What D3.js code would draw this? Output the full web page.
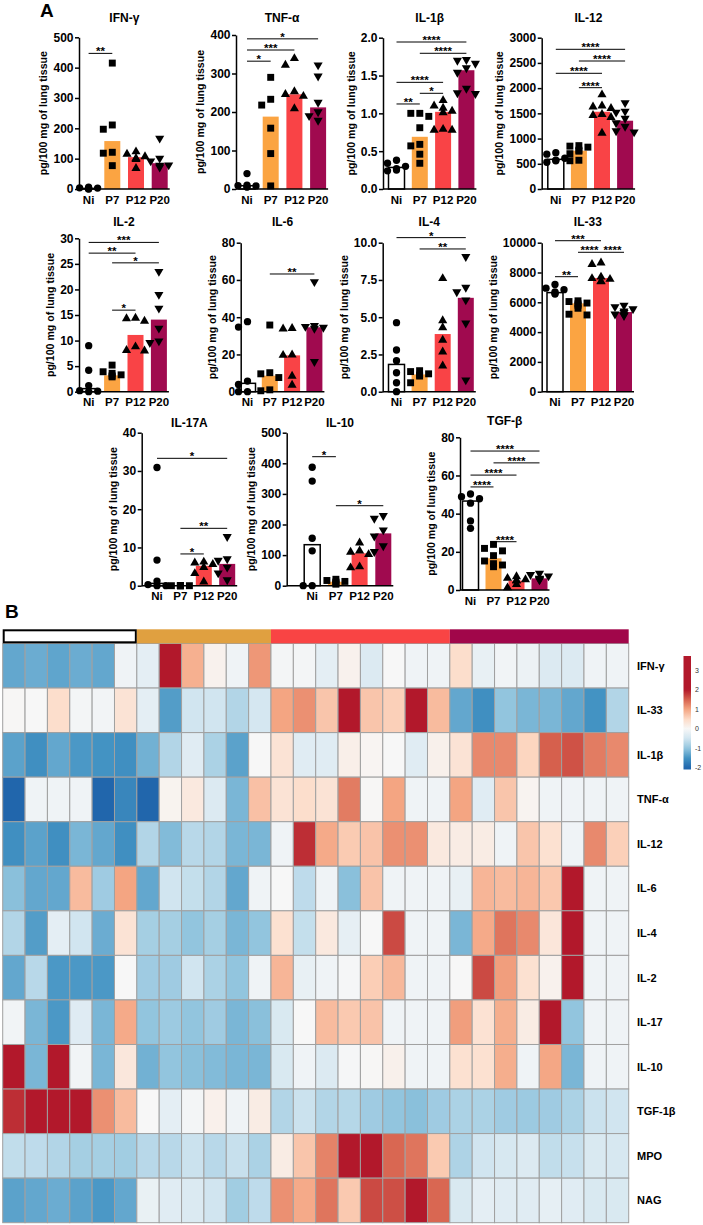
<!DOCTYPE html>
<meta charset="utf-8">
<body style="margin:0">
<style>
svg text { font-family: "Liberation Sans", Arial, sans-serif; font-weight: bold; fill: #000; }
.axis path, .axis line { stroke: #000; stroke-width: 1.5px; }
</style>
<script src="https://d3js.org/d3.v7.min.js"></script>
<script>

var groups = ["Ni", "P7", "P12", "P20"];
var barColors = ["#ffffff", "#fba442", "#f94346", "#a00a4f"];
var annColors = ["#ffffff", "#e0a040", "#f94444", "#a1064a"];

// panel A: points per group, bar = median, significance brackets [from, to, label, level]
var ifngPts = [[6, 4, 3, 2, 1, 0], [415, 211, 197, 121, 118, 77], [123, 115, 107, 101, 98, 68], [167, 101, 92, 79, 78, 72]];
var ifngBar = [2, 158, 105, 85];
var ifngSig = [["Ni", "P7", "**", 447]];

var tnfPts = [[40, 10, 9, 8, 6, 5], [290, 233, 218, 158, 92, 8], [339, 322, 253, 246, 241, 209], [322, 293, 225, 200, 190, 178]];
var tnfBar = [8.5, 188, 246, 212];
var tnfSig = [["Ni", "P7", "*", 332], ["Ni", "P12", "***", 361], ["Ni", "P20", "*", 390]];

var il1bPts = [[0.38, 0.34, 0.30, 0.27, 0.25, 0.24], [1.0, 1.0, 0.96, 0.81, 0.59, 0.57, 0.46, 0.34], [1.17, 1.10, 1.07, 1.03, 1.01, 0.79, 0.78, 0.78], [1.71, 1.70, 1.66, 1.60, 1.54, 1.33, 1.27, 1.26]];
var il1bBar = [0.285, 0.69, 1.02, 1.57];
var il1bSig = [["Ni", "P7", "**", 1.124], ["P7", "P12", "*", 1.265], ["Ni", "P12", "****", 1.41], ["P7", "P20", "****", 1.794], ["Ni", "P20", "****", 1.943]];

var il12Pts = [[720, 690, 610, 570, 560, 530], [860, 850, 830, 770, 750, 700, 570, 560], [1870, 1650, 1630, 1600, 1480, 1460, 1420, 1110], [1710, 1540, 1520, 1400, 1310, 1240, 1150, 1130]];
var il12Bar = [588, 760, 1532, 1354];
var il12Sig = [["P7", "P12", "****", 2009], ["Ni", "P12", "****", 2294], ["P7", "P20", "****", 2538], ["Ni", "P20", "****", 2770]];

var il2Pts = [[9.0, 4.2, 1.2, 0.2, 0.1, 0], [5.2, 3.9, 3.6, 3.3, 3.1, 2.9], [14.4, 14.3, 13.8, 8.8, 8.1, 8.0], [23.5, 19.0, 16.3, 12.4, 9.9, 9.6]];
var il2Bar = [0.6, 3.2, 11.1, 14.1];
var il2Sig = [["P7", "P12", "*", 15.95], ["P7", "P20", "*", 25.2], ["Ni", "P12", "**", 27.1], ["Ni", "P20", "***", 29.2]];

var il6Pts = [[37.6, 34.7, 5.7, 3.9, 0, 0], [35.8, 10.2, 9.6, 7.6, 1.0, 0.5], [34, 33.8, 19.8, 19.6, 8.4, 3.6], [59, 35.5, 35, 34.5, 34, 16.1]];
var il6Bar = [4.5, 8.6, 19.5, 34.6];
var il6Sig = [["P7", "P20", "**", 63.2]];

var il4Pts = [[4.63, 2.8, 2.08, 1.27, 0.6, 0], [1.41, 1.35, 1.2, 1.12, 1.05, 0.6], [7.6, 4.77, 4.3, 3.47, 2.68, 1.74], [9.06, 7.0, 6.7, 6.15, 4.6, 0.78]];
var il4Bar = [1.83, 1.16, 3.87, 6.3];
var il4Sig = [["P7", "P20", "**", 9.58], ["Ni", "P20", "*", 10.34]];

var il33Pts = [[7200, 6950, 6850, 6700, 6600, 6550], [6100, 6050, 5950, 5900, 5800, 5600, 5200, 5150], [8650, 8550, 7700, 7600, 7550, 7400, 7380], [5800, 5700, 5550, 5400, 5300, 5200, 5150, 5100]];
var il33Bar = [6650, 5930, 7630, 5350];
var il33Sig = [["Ni", "P7", "**", 7718], ["P7", "P12", "****", 9356], ["P12", "P20", "****", 9356], ["Ni", "P12", "***", 10134]];

var il17Pts = [[30.9, 6.7, 1.2, 0.3, 0, 0], [0, 0, 0, 0, 0, 0], [6.2, 6.0, 5.6, 4.8, 3.2, 1.0], [12.8, 7.0, 6.6, 4.8, 3.3, 1.5]];
var il17Bar = [0.6, 0, 5.2, 5.7];
var il17Sig = [["P7", "P12", "*", 8.3], ["P7", "P20", "**", 15.0], ["Ni", "P20", "*", 33.3]];

var il10Pts = [[387, 342, 155, 114, 0, 0], [21, 17, 14, 12, 9, 5], [140, 114, 110, 102, 62, 59], [229, 220, 182, 162, 130, 111]];
var il10Bar = [134, 13, 106, 171];
var il10Sig = [["Ni", "P7", "*", 421.6], ["P7", "P20", "*", 261.4]];

var tgfPts = [[50.3, 48.9, 47.8, 45.5, 36.2, 32.3], [23.9, 21.8, 20.5, 18, 15.2, 13.8, 13.1, 12.2], [7, 6.2, 5.5, 5, 4.8, 3, 1.2], [8.7, 8, 7.3, 6.1, 5.8, 5.5, 5.2]];
var tgfBar = [46.6, 16.6, 4.9, 6.1];
var tgfSig = [["P7", "P12", "****", 25.3], ["Ni", "P7", "****", 54.0], ["Ni", "P12", "****", 60.2], ["P7", "P20", "****", 66.6], ["Ni", "P20", "****", 72.8]];

// heatmap B: z-scores, rows x 28 mice
var heatRows = ["IFN-γ", "IL-33", "IL-1β", "TNF-α", "IL-12", "IL-6", "IL-4", "IL-2", "IL-17", "IL-10", "TGF-1β", "MPO", "NAG"];
var groupSizes = [6, 6, 8, 8];
var heatZ = [
  [-1.3, -1.25, -1.32, -1.25, -1.3, -0.1, -0.25, 2.5, 0.9, 0.1, -0.1, 1.1, -0.05, -0.05, -0.25, 0.1, -0.35, 0, -0.1, -0.1, 0.45, -0.2, -0.08, -0.15, -0.35, -0.35, -0.1, -0.1],
  [0.02, 0, 0.45, -0.05, -0.07, 0.35, -0.25, -1.4, -0.5, -0.5, -0.75, -0.45, 1.0, 1.15, 0.7, 2.5, 0.7, 0.6, 2.5, 0.8, -1.3, -1.55, -1.0, -1.15, -1.15, -1.3, -1.5, -0.75],
  [-1.35, -1.55, -1.3, -1.45, -1.5, -1.55, -1.2, -0.75, -0.3, -0.8, -1.35, 0, 0.35, -0.3, -0.3, 0.15, 0.05, 0, -0.3, 0.12, 0.35, 1.2, 1.2, 0.55, 1.5, 1.6, 1.3, 1.2],
  [-2, -0.1, -0.1, -0.1, -2, -1.65, -2, 0.08, 0.25, -0.35, -1.15, 0.75, 0.35, 0.45, 0.35, 1.3, 0.02, 1.0, -0.1, -0.1, 1.0, -0.3, 0.7, 0.07, -0.1, -0.1, -0.1, -0.1],
  [-1.55, -1.35, -1.55, -1.15, -1.3, -1.55, -0.75, -1.1, -0.7, -0.75, -1.15, -1.15, -0.1, 1.85, 0.95, 0.65, 0.72, 1.15, 1.15, 0.25, 0.2, 0.2, -0.1, 0.7, 0.4, -0.1, 1.2, 0.6],
  [-1.05, -1.3, -1.3, 0.8, -0.9, 1.0, -1.3, -0.5, -0.6, -0.75, -1.3, -0.1, 0, -0.65, -0.1, -1.05, 0.72, -0.1, -0.1, -0.1, -0.2, 0.85, 0.8, 0.85, 0.68, 2.5, -0.1, -0.1],
  [-0.75, -1.4, -0.25, -0.5, -1.25, 0.35, -0.85, -0.85, -1.0, -0.85, -1.15, -1.0, 0.4, -0.6, 0.25, -0.22, 0, 1.65, -0.1, -0.1, -1.15, 0.95, 1.35, 1.2, 0.3, 2.5, -0.1, -0.1],
  [-1.3, -0.7, -1.45, -1.45, -1.45, 0, -0.9, -0.9, -0.5, -0.8, -1.0, -0.1, 0.85, -0.2, -0.1, -0.03, 0.62, 0.82, -0.1, -0.1, 0, 1.65, 1.05, 0.4, 0.1, 2.5, -0.1, -0.1],
  [-0.08, -1.15, -1.45, -0.32, -1.15, 0.95, -1.0, -0.92, -1.0, -0.9, -1.15, -1.05, -0.4, 0, 0.8, 0.67, 0.72, -0.1, -0.1, -0.1, 1.05, 0.38, 0.92, 0.2, 2.5, -1.0, -0.1, -0.1],
  [2.3, -1.15, 2.3, -0.08, -1.15, 0.28, -1.2, -1.0, -1.05, -1.1, -1.15, -1.15, -0.4, -0.1, -0.35, -0.03, 0.02, 0.12, -0.1, -0.1, 0.4, 0.4, 0.92, -0.1, 0.98, -1.15, -0.1, -0.1],
  [1.85, 2.2, 2.2, 2.1, 1.15, 0.8, 0, -0.25, -0.05, 0.13, -0.1, 0.2, -0.75, -0.55, -0.75, -0.72, -0.9, -1.0, -1.05, -0.9, -0.8, -0.8, -0.9, -0.92, -0.9, -0.8, -0.55, -0.5],
  [-0.63, -0.65, -0.75, -0.85, -0.85, -0.88, -0.7, -0.7, -0.55, -0.7, -0.58, -0.8, 0.2, 0.7, 1.25, 2.5, 2.3, 1.45, 1.35, 0.66, -0.78, -0.5, -0.42, -0.35, -0.63, -0.58, -0.4, -0.42],
  [-1.35, -1.3, -1.25, -1.35, -1.45, -1.3, -0.18, -0.3, -0.37, -0.5, -0.88, -0.65, 1.15, 0.95, 1.35, 0.67, 1.65, 1.62, 2.0, 1.45, -0.4, -0.25, -0.3, -0.3, -0.22, -0.3, -0.4, -0.4]
];
var legendTicks = [-2, -1, 0, 1, 2, 3];

var panels = [
  {name: "IFN-γ", pts: ifngPts, bar: ifngBar, sig: ifngSig, max: 500, step: 100, fmt: "d"},
  {name: "TNF-α", pts: tnfPts, bar: tnfBar, sig: tnfSig, max: 400, step: 100, fmt: "d"},
  {name: "IL-1β", pts: il1bPts, bar: il1bBar, sig: il1bSig, max: 2, step: 0.5, fmt: ".1f"},
  {name: "IL-12", pts: il12Pts, bar: il12Bar, sig: il12Sig, max: 3000, step: 500, fmt: "d"},
  {name: "IL-2", pts: il2Pts, bar: il2Bar, sig: il2Sig, max: 30, step: 5, fmt: "d"},
  {name: "IL-6", pts: il6Pts, bar: il6Bar, sig: il6Sig, max: 80, step: 20, fmt: "d"},
  {name: "IL-4", pts: il4Pts, bar: il4Bar, sig: il4Sig, max: 10, step: 2.5, fmt: ".1f"},
  {name: "IL-33", pts: il33Pts, bar: il33Bar, sig: il33Sig, max: 10000, step: 2000, fmt: "d"},
  {name: "IL-17A", pts: il17Pts, bar: il17Bar, sig: il17Sig, max: 40, step: 10, fmt: "d"},
  {name: "IL-10", pts: il10Pts, bar: il10Bar, sig: il10Sig, max: 500, step: 100, fmt: "d"},
  {name: "TGF-β", pts: tgfPts, bar: tgfBar, sig: tgfSig, max: 80, step: 20, fmt: "d"}
];

// where each small chart sits
var layout = [
  {ax: 79, top: 37.3, bottom: 189, c0: 88.6, dx: 23.7, ty: 22},
  {ax: 236, top: 35, bottom: 189, c0: 247, dx: 23.7, ty: 22},
  {ax: 383, top: 37.7, bottom: 189, c0: 396.5, dx: 23.3, ty: 22},
  {ax: 541.7, top: 37.7, bottom: 189, c0: 555.8, dx: 23.1, ty: 22},
  {ax: 79, top: 238.3, bottom: 391.7, c0: 88.7, dx: 23.4, ty: 226},
  {ax: 240.7, top: 242.7, bottom: 391.7, c0: 247.5, dx: 22.3, ty: 226},
  {ax: 382.7, top: 242.7, bottom: 391.7, c0: 396.5, dx: 23.1, ty: 226},
  {ax: 541.7, top: 242.7, bottom: 391.7, c0: 555, dx: 23, ty: 226},
  {ax: 141.7, top: 432.7, bottom: 585.7, c0: 157, dx: 23.4, ty: 426.5},
  {ax: 286.7, top: 432.7, bottom: 585.7, c0: 312.2, dx: 23.7, ty: 426.5},
  {ax: 460, top: 437.3, bottom: 590, c0: 470.5, dx: 23, ty: 425}
];

var svg = d3.select("body").append("svg")
    .attr("width", 703)
    .attr("height", 1225);

svg.append("text").attr("x", 40).attr("y", 17).style("font-size", "19px").text("A");
svg.append("text").attr("x", 5).attr("y", 618).style("font-size", "19px").text("B");

var symbols = [d3.symbolCircle, d3.symbolSquare, d3.symbolTriangle, d3.symbolTriangle];
var symSizes = [42, 48, 36, 36];

panels.forEach(function(p, k) {
  var L = layout[k];
  var g = svg.append("g");
  var y = d3.scaleLinear().domain([0, p.max]).range([L.bottom, L.top]);
  var x = d3.scalePoint().domain(groups).range([L.c0, L.c0 + 3 * L.dx]);
  var xEnd = L.c0 + 3 * L.dx + 10;

  // bars
  g.selectAll(".bar")
      .data(p.bar)
    .enter().append("rect")
      .attr("x", function(d, i) { return x(groups[i]) - 8; })
      .attr("width", 16)
      .attr("y", function(d) { return y(d); })
      .attr("height", function(d) { return L.bottom - y(d); })
      .attr("fill", function(d, i) { return barColors[i]; })
      .attr("stroke", function(d, i) { return i == 0 ? "#000" : "none"; })
      .attr("stroke-width", 1.5);

  // dots, spread sideways when they overlap
  p.pts.forEach(function(vals, gi) {
    var placed = [];
    var offs = [0, -5, 5, -9, 9, -3, 3, -7, 7];
    vals.slice().sort(d3.descending).forEach(function(v) {
      var py = y(v), px = 0;
      for (var j = 0; j < offs.length; j++) {
        var hit = placed.some(function(q) { return Math.abs(q[0] - offs[j]) < 7 && Math.abs(q[1] - py) < 7; });
        if (!hit) { px = offs[j]; break; }
      }
      placed.push([px, py]);
      g.append("path")
          .attr("d", d3.symbol().type(symbols[gi]).size(symSizes[gi])())
          .attr("transform", "translate(" + (x(groups[gi]) + px) + "," + py + ")" + (gi == 3 ? " rotate(180)" : ""))
          .attr("fill", "#000");
    });
  });

  // axes
  var ax = g.append("g")
      .attr("class", "axis")
      .attr("transform", "translate(" + L.ax + ",0)")
      .call(d3.axisLeft(y)
        .tickValues(d3.range(0, p.max + p.step / 2, p.step))
        .tickSize(4).tickSizeOuter(0).tickPadding(1.5)
        .tickFormat(d3.format(p.fmt)));
  ax.selectAll("text").attr("font-family", null).style("font-size", "12px");
  ax.attr("font-family", null);

  g.append("line")
      .attr("x1", L.ax).attr("x2", xEnd)
      .attr("y1", L.bottom).attr("y2", L.bottom)
      .attr("stroke", "#000").attr("stroke-width", 1.5);

  g.selectAll(".xl")
      .data(groups)
    .enter().append("text")
      .attr("x", function(d) { return x(d); })
      .attr("y", L.bottom + 14.5)
      .attr("text-anchor", "middle")
      .style("font-size", "11.5px")
      .text(function(d) { return d; });

  var bb = ax.node().getBBox();
  g.append("text")
      .attr("transform", "translate(" + (L.ax + bb.x - 6) + "," + ((L.top + L.bottom) / 2) + ") rotate(-90)")
      .attr("text-anchor", "middle")
      .style("font-size", "10.6px")
      .text("pg/100 mg of lung tissue");

  g.append("text")
      .attr("x", (L.ax + xEnd) / 2)
      .attr("y", L.ty)
      .attr("text-anchor", "middle")
      .style("font-size", "12px")
      .text(p.name);

  // significance brackets
  p.sig.forEach(function(s) {
    var x1 = x(s[0]), x2 = x(s[1]), ly = y(s[3]);
    g.append("line")
        .attr("x1", x1).attr("x2", x2).attr("y1", ly).attr("y2", ly)
        .attr("stroke", "#000").attr("stroke-width", 1);
    g.append("text")
        .attr("x", (x1 + x2) / 2).attr("y", ly + 2)
        .attr("text-anchor", "middle")
        .style("font-size", "11.5px")
        .text(s[2]);
  });
});

// ---- heatmap ----
var nCols = d3.sum(groupSizes);

var hx = d3.scaleBand().domain(d3.range(nCols)).range([2.7, 628.7]);
var hy = d3.scaleBand().domain(heatRows).range([643.5, 1222.7]);
var heatColor = d3.scaleLinear()
    .domain([-2, -1.5, -1, -0.5, 0, 0.5, 1, 1.5, 2])
    .range(["#2166ac", "#4393c3", "#92c5de", "#d1e5f0", "#f7f7f7", "#fddbc7", "#f4a582", "#d6604d", "#b2182b"])
    .clamp(true);

var hm = svg.append("g");
heatZ.forEach(function(row, r) {
  hm.selectAll(".c" + r)
      .data(row)
    .enter().append("rect")
      .attr("x", function(d, i) { return hx(i); })
      .attr("y", hy(heatRows[r]))
      .attr("width", hx.bandwidth())
      .attr("height", hy.bandwidth())
      .attr("fill", function(d) { return heatColor(d); })
      .attr("stroke", "#a0a0a0")
      .attr("stroke-width", 1);
});

// group annotation bar
var starts = d3.cumsum([0].concat(groupSizes));
groups.forEach(function(gname, i) {
  var x0 = hx(starts[i]), x1 = hx(starts[i + 1] - 1) + hx.bandwidth();
  svg.append("rect")
      .attr("x", i == 0 ? x0 + 1 : x0).attr("y", i == 0 ? 630.3 : 629.3)
      .attr("width", i == 0 ? x1 - x0 - 2 : x1 - x0).attr("height", i == 0 ? 12 : 14)
      .attr("fill", annColors[i])
      .attr("stroke", i == 0 ? "#000" : "none")
      .attr("stroke-width", 2);
});

hm.selectAll(".rl")
    .data(heatRows)
  .enter().append("text")
    .attr("x", 637)
    .attr("y", function(d) { return hy(d) + hy.bandwidth() / 2; })
    .attr("dy", "0.35em")
    .style("font-size", "11px")
    .text(function(d) { return d; });

// colour key
var ky = d3.scaleLinear().domain([-2.08, 3.72]).range([769.5, 656]);
var grad = svg.append("defs").append("linearGradient")
    .attr("id", "kg").attr("x1", 0).attr("x2", 0).attr("y1", 1).attr("y2", 0);
d3.range(0, 1.0001, 0.02).forEach(function(t) {
  grad.append("stop").attr("offset", t).attr("stop-color", heatColor(-2.08 + t * 5.8));
});
svg.append("rect")
    .attr("x", 683.5).attr("y", 656).attr("width", 7.5).attr("height", 113.5)
    .attr("fill", "url(#kg)");
svg.selectAll(".kt")
    .data(legendTicks)
  .enter().append("text")
    .attr("x", 695)
    .attr("y", function(d) { return ky(d); })
    .attr("dy", "0.35em")
    .style("font-size", "7px")
    .style("font-weight", "normal")
    .style("fill", "#333")
    .text(function(d) { return d; });

</script>
</body>
</html>
